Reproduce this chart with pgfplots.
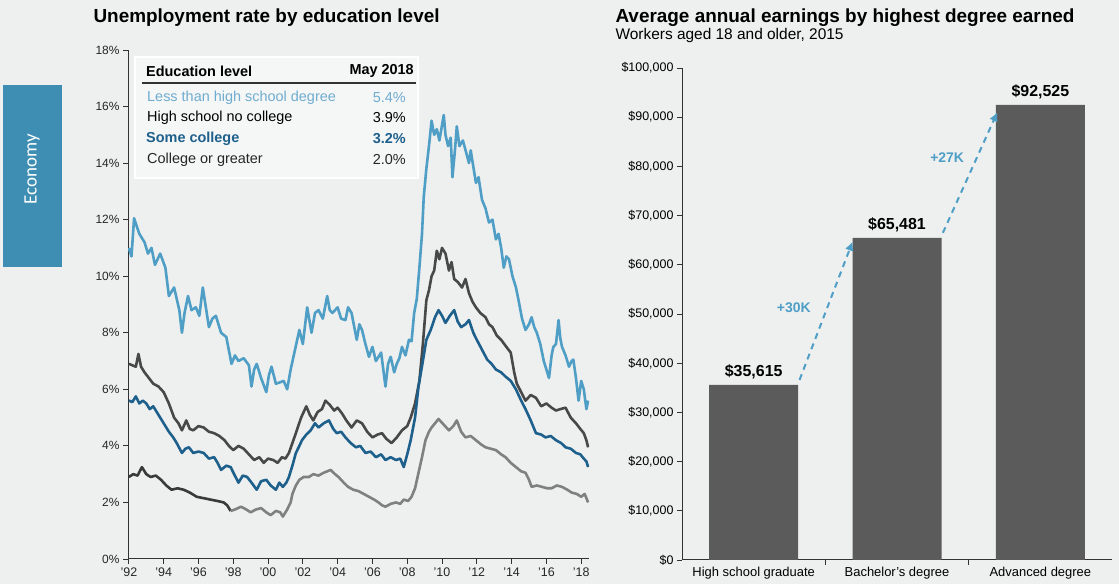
\documentclass[border=0pt]{standalone}
\usepackage{fontspec}
\setmainfont{Liberation Sans}
\newfontfamily\tabfont{Carlito}
\usepackage{pgfplots}
\pgfplotsset{compat=1.18}
\usetikzlibrary{arrows.meta}

\definecolor{bg}{RGB}{238,239,239}
\definecolor{tabblue}{RGB}{62,142,180}
\definecolor{lths}{RGB}{78,158,198}
\definecolor{lthstext}{RGB}{110,172,208}
\definecolor{hsnc}{RGB}{72,72,72}
\definecolor{somecol}{RGB}{30,96,140}
\definecolor{colgrey}{RGB}{128,128,128}
\definecolor{coldark}{RGB}{58,58,58}
\definecolor{bargrey}{RGB}{91,91,91}
\definecolor{axisgrey}{RGB}{50,50,50}

\begin{document}
\begin{tikzpicture}[x=1bp,y=1bp]
\path[use as bounding box, fill=bg] (0,0) rectangle (1119,584);

% side tab
\fill[tabblue] (3,317) rectangle (62,499);
\node[rotate=90, text=white, font=\tabfont\fontsize{19}{21}\selectfont] at (32,415) {Economy};

% titles
\node[anchor=west, font=\bfseries\fontsize{19}{22}\selectfont] at (90,566) {Unemployment rate by education level};
\node[anchor=west, font=\bfseries\fontsize{19}{22}\selectfont] at (612,566) {Average annual earnings by highest degree earned};
\node[anchor=west, font=\fontsize{15.5}{18}\selectfont] at (612,548) {Workers aged 18 and older, 2015};

% ---------------- left: unemployment rate ----------------
\begin{axis}[
    at={(128bp,25bp)}, anchor=south west,
    scale only axis, width=461bp, height=509bp,
    xmin=1991.95, xmax=2018.45,
    ymin=0, ymax=18,
    axis lines=left,
    axis line style={-, draw=axisgrey, line width=1bp},
    xtick={1992,1994,...,2018},
    xticklabels={'92,'94,'96,'98,'00,'02,'04,'06,'08,'10,'12,'14,'16,'18},
    ytick={0,2,...,18},
    yticklabels={0\%,2\%,4\%,6\%,8\%,10\%,12\%,14\%,16\%,18\%},
    tick align=outside,
    major tick length=5bp,
    tick style={draw=axisgrey, line width=0.8bp},
    xticklabel style={font=\fontsize{12.5}{14}\selectfont, text=black!85},
    yticklabel style={font=\fontsize{12}{14}\selectfont, text=black!85},
    line join=round,
  ]
  % Less than high school degree
  \addplot[lths, line width=2.6bp] coordinates {
    (1992.0,11.0) (1992.15,10.7) (1992.3,12.05) (1992.6,11.5) (1992.9,11.2)
    (1993.1,10.8) (1993.3,11.0) (1993.5,10.4) (1993.8,10.8) (1994.1,10.3)
    (1994.3,9.3) (1994.6,9.6) (1994.9,8.8) (1995.05,8.0) (1995.2,8.7)
    (1995.4,9.3) (1995.6,8.8) (1995.85,8.9) (1996.05,8.6) (1996.25,9.6)
    (1996.45,8.8) (1996.6,8.2) (1996.8,8.5) (1997.0,8.6) (1997.3,8.0)
    (1997.6,7.85) (1997.9,6.9) (1998.1,7.2) (1998.3,7.0) (1998.6,7.1)
    (1998.9,6.85) (1999.05,6.1) (1999.2,6.7) (1999.35,6.9) (1999.6,6.4)
    (1999.9,5.9) (2000.05,6.5) (2000.2,6.8) (2000.45,6.2) (2000.7,6.25)
    (2000.9,6.3) (2001.1,6.0) (2001.3,6.7) (2001.55,7.4) (2001.8,8.1)
    (2002.0,7.6) (2002.25,8.9) (2002.5,8.0) (2002.7,8.7) (2002.9,8.8)
    (2003.15,8.5) (2003.4,9.3) (2003.55,8.8) (2003.7,8.7) (2004.0,8.9)
    (2004.2,8.5) (2004.45,8.45) (2004.6,8.9) (2004.8,8.7) (2005.1,7.75)
    (2005.25,8.3) (2005.4,8.1) (2005.6,7.6) (2005.8,7.15) (2006.0,7.5)
    (2006.2,7.0) (2006.5,7.3) (2006.75,6.1) (2006.9,6.9) (2007.05,7.15)
    (2007.25,6.6) (2007.4,6.9) (2007.55,7.1) (2007.7,7.5) (2007.9,7.2)
    (2008.1,7.75) (2008.25,7.7) (2008.4,8.7) (2008.55,9.2) (2008.7,10.3)
    (2008.85,11.5) (2008.95,12.8) (2009.1,13.8) (2009.25,14.6) (2009.4,15.5)
    (2009.55,15.0) (2009.7,15.2) (2009.85,14.8) (2010.1,15.7) (2010.2,15.0)
    (2010.35,14.6) (2010.5,14.9) (2010.6,13.5) (2010.75,14.5) (2010.85,15.3)
    (2011.0,14.6) (2011.2,14.8) (2011.4,14.35) (2011.55,14.0) (2011.65,14.45)
    (2011.95,13.3) (2012.1,13.5) (2012.3,12.7) (2012.5,12.4) (2012.7,11.9)
    (2012.9,12.0) (2013.1,11.3) (2013.25,11.5) (2013.4,11.0) (2013.55,10.3)
    (2013.7,10.7) (2013.85,10.6) (2014.05,10.0) (2014.25,9.6) (2014.4,9.15)
    (2014.6,8.5) (2014.8,8.1) (2015.0,8.3) (2015.15,8.55) (2015.3,8.2)
    (2015.45,8.0) (2015.65,7.6) (2015.85,7.0) (2016.0,6.7) (2016.15,6.4)
    (2016.3,7.2) (2016.4,7.5) (2016.55,7.6) (2016.7,8.45) (2016.8,7.8)
    (2016.9,7.5) (2017.1,7.2) (2017.3,6.8) (2017.45,7.0) (2017.55,7.05)
    (2017.7,6.4) (2017.85,5.6) (2018.0,6.3) (2018.15,6.0) (2018.3,5.3)
    (2018.4,5.6)
  };
  % High school no college
  \addplot[hsnc, line width=2.6bp] coordinates {
    (1992.0,6.9) (1992.2,6.85) (1992.4,6.8) (1992.55,7.25) (1992.7,6.8)
    (1992.9,6.6) (1993.15,6.4) (1993.4,6.2) (1993.7,6.1) (1994.0,5.9)
    (1994.3,5.5) (1994.6,5.0) (1994.85,4.8) (1995.05,4.55) (1995.3,4.9)
    (1995.5,4.6) (1995.7,4.55) (1996.0,4.7) (1996.3,4.65) (1996.6,4.5)
    (1996.9,4.45) (1997.2,4.35) (1997.5,4.2) (1997.75,4.0) (1998.0,3.85)
    (1998.3,4.0) (1998.6,3.9) (1998.9,3.7) (1999.2,3.5) (1999.5,3.6)
    (1999.75,3.4) (2000.0,3.55) (2000.3,3.5) (2000.55,3.4) (2000.8,3.6)
    (2001.0,3.55) (2001.2,3.75) (2001.4,4.1) (2001.6,4.45) (2001.9,5.0)
    (2002.2,5.4) (2002.4,5.1) (2002.6,4.9) (2002.85,5.2) (2003.1,5.3)
    (2003.3,5.6) (2003.55,5.45) (2003.8,5.25) (2004.0,5.35) (2004.25,5.15)
    (2004.5,4.9) (2004.8,4.65) (2005.1,4.9) (2005.4,4.8) (2005.7,4.5)
    (2006.0,4.3) (2006.3,4.4) (2006.55,4.45) (2006.8,4.25) (2007.1,4.1)
    (2007.4,4.3) (2007.7,4.55) (2008.0,4.7) (2008.2,5.0) (2008.45,5.5)
    (2008.7,6.3) (2008.9,7.6) (2009.1,9.15) (2009.25,9.5) (2009.4,10.0)
    (2009.55,10.2) (2009.7,10.9) (2009.85,10.6) (2010.0,11.0) (2010.2,10.8)
    (2010.4,10.2) (2010.55,10.5) (2010.7,9.9) (2010.9,9.8) (2011.15,9.6)
    (2011.35,9.9) (2011.55,9.4) (2011.75,9.1) (2011.95,8.9) (2012.2,8.7)
    (2012.5,8.55) (2012.7,8.3) (2012.9,8.2) (2013.15,7.9) (2013.4,7.75)
    (2013.7,7.5) (2013.95,7.3) (2014.15,6.6) (2014.3,6.2) (2014.55,5.9)
    (2014.8,5.6) (2015.1,5.8) (2015.4,5.7) (2015.7,5.4) (2016.0,5.5)
    (2016.3,5.35) (2016.55,5.25) (2016.8,5.3) (2017.1,5.35) (2017.4,5.0)
    (2017.7,4.8) (2017.95,4.6) (2018.15,4.45) (2018.3,4.2) (2018.4,3.95)
  };
  % Some college
  \addplot[somecol, line width=2.6bp] coordinates {
    (1992.0,5.6) (1992.2,5.55) (1992.4,5.75) (1992.6,5.5) (1992.8,5.6)
    (1993.0,5.5) (1993.2,5.3) (1993.4,5.4) (1993.7,5.1) (1994.0,4.8)
    (1994.3,4.5) (1994.55,4.3) (1994.75,4.1) (1995.05,3.75) (1995.25,3.9)
    (1995.45,3.95) (1995.7,3.75) (1996.0,3.8) (1996.3,3.75) (1996.6,3.55)
    (1996.9,3.6) (1997.1,3.4) (1997.3,3.15) (1997.6,3.3) (1997.85,3.25)
    (1998.05,3.0) (1998.3,2.7) (1998.55,2.95) (1998.8,2.9) (1999.05,2.7)
    (1999.35,2.45) (1999.6,2.75) (1999.9,2.8) (2000.15,2.6) (2000.45,2.45)
    (2000.65,2.7) (2000.85,2.55) (2001.05,2.7) (2001.2,2.9) (2001.4,3.3)
    (2001.6,3.75) (2001.8,4.0) (2001.95,4.2) (2002.2,4.4) (2002.45,4.55)
    (2002.7,4.8) (2002.9,4.65) (2003.2,4.8) (2003.5,4.9) (2003.75,4.6)
    (2003.95,4.45) (2004.2,4.5) (2004.45,4.3) (2004.75,4.1) (2005.05,3.95)
    (2005.3,4.0) (2005.6,3.75) (2005.9,3.8) (2006.2,3.6) (2006.5,3.7)
    (2006.75,3.5) (2007.05,3.6) (2007.35,3.5) (2007.6,3.55) (2007.8,3.25)
    (2008.0,3.7) (2008.2,4.2) (2008.45,5.0) (2008.65,6.1) (2008.9,7.0)
    (2009.1,7.75) (2009.35,8.1) (2009.6,8.55) (2009.8,8.8) (2010.0,8.6)
    (2010.2,8.35) (2010.45,8.6) (2010.7,8.8) (2010.9,8.4) (2011.1,8.2)
    (2011.35,8.3) (2011.55,8.45) (2011.8,8.0) (2012.0,7.75) (2012.3,7.4)
    (2012.6,7.05) (2012.85,6.9) (2013.1,6.7) (2013.4,6.6) (2013.65,6.45)
    (2013.95,6.3) (2014.25,6.0) (2014.55,5.6) (2014.8,5.3) (2015.1,4.9)
    (2015.4,4.45) (2015.7,4.4) (2015.95,4.3) (2016.25,4.35) (2016.55,4.2)
    (2016.85,4.1) (2017.1,3.95) (2017.4,3.9) (2017.7,3.75) (2017.95,3.7)
    (2018.15,3.55) (2018.3,3.45) (2018.4,3.25)
  };
  % College or greater (darker in the early years, as printed)
  \addplot[coldark, line width=2.6bp] coordinates {
    (1992.0,2.9) (1992.25,3.0) (1992.5,2.95) (1992.75,3.25) (1993.0,3.0)
    (1993.25,2.9) (1993.55,2.95) (1993.85,2.8) (1994.15,2.6) (1994.45,2.45)
    (1994.8,2.5) (1995.15,2.45) (1995.5,2.35) (1995.9,2.2) (1996.3,2.15)
    (1996.7,2.1) (1997.1,2.05) (1997.45,2.0) (1997.65,1.9) (1997.85,1.7)
  };
  \addplot[colgrey, line width=2.6bp] coordinates {
    (1997.85,1.7) (1998.1,1.75) (1998.45,1.85) (1998.75,1.75) (1999.0,1.65)
    (1999.3,1.75) (1999.6,1.8) (1999.9,1.65) (2000.15,1.55) (2000.45,1.7)
    (2000.7,1.65) (2000.85,1.5) (2001.1,1.75) (2001.3,2.0) (2001.4,2.3)
    (2001.6,2.6) (2001.8,2.8) (2002.05,2.9) (2002.35,2.9) (2002.6,3.0)
    (2002.9,2.95) (2003.2,3.05) (2003.6,3.15) (2003.85,3.0) (2004.05,2.9)
    (2004.35,2.7) (2004.6,2.55) (2004.9,2.45) (2005.2,2.4) (2005.5,2.3)
    (2005.8,2.2) (2006.1,2.1) (2006.35,2.0) (2006.55,1.9) (2006.75,1.85)
    (2007.05,1.95) (2007.35,2.0) (2007.6,1.95) (2007.8,2.1) (2008.05,2.05)
    (2008.25,2.2) (2008.45,2.5) (2008.65,3.05) (2008.85,3.6) (2009.05,4.2)
    (2009.25,4.5) (2009.4,4.65) (2009.6,4.8) (2009.8,4.95) (2010.1,4.75)
    (2010.4,4.55) (2010.65,4.7) (2010.85,4.9) (2011.1,4.5) (2011.35,4.3)
    (2011.65,4.35) (2011.95,4.2) (2012.25,4.05) (2012.5,3.95) (2012.8,3.9)
    (2013.1,3.85) (2013.4,3.7) (2013.65,3.6) (2013.95,3.4) (2014.25,3.25)
    (2014.55,3.1) (2014.8,3.05) (2015.0,2.8) (2015.15,2.55) (2015.45,2.6)
    (2015.75,2.55) (2016.05,2.5) (2016.3,2.5) (2016.6,2.6) (2016.9,2.55)
    (2017.2,2.45) (2017.45,2.35) (2017.75,2.3) (2018.0,2.2) (2018.2,2.3)
    (2018.4,2.0)
  };
\end{axis}

% legend table of the left chart
\filldraw[fill=white, fill opacity=0.45, draw=white, line width=1.5bp] (135,406) rectangle (418,527);
\begin{scope}[every node/.style={font=\fontsize{14.5}{17}\selectfont, inner sep=0pt}]
  \node[anchor=west, font=\bfseries\fontsize{14.5}{17}\selectfont] at (146,513) {Education level};
  \node[anchor=east, font=\bfseries\fontsize{14.5}{17}\selectfont] at (414,513) {May 2018};
  \draw[axisgrey, line width=1.5bp] (142,501) -- (416,501);
  \node[anchor=west, text=lthstext] at (147,486) {Less than high school degree};
  \node[anchor=east, text=lthstext] at (406,486) {5.4\%};
  \node[anchor=west, text=black] at (147,466) {High school no college};
  \node[anchor=east, text=black] at (406,466) {3.9\%};
  \node[anchor=west, text=somecol, font=\bfseries\fontsize{14.5}{17}\selectfont] at (146,445) {Some college};
  \node[anchor=east, text=somecol, font=\bfseries\fontsize{14.5}{17}\selectfont] at (406,445) {3.2\%};
  \node[anchor=west, text=black!85] at (147,424) {College or greater};
  \node[anchor=east, text=black!85] at (406,424) {2.0\%};
\end{scope}

% ---------------- right: average annual earnings ----------------
\begin{axis}[
    at={(682bp,24bp)}, anchor=south west,
    scale only axis, width=430bp, height=492bp,
    xmin=-0.5, xmax=2.5,
    ymin=0, ymax=100000,
    axis lines=left,
    axis line style={-, draw=axisgrey, line width=1bp},
    xtick={0.5,1.5},
    xticklabels={},
    extra x ticks={0,1,2},
    extra x tick labels={High school graduate,Bachelor's degree,Advanced degree},
    extra x tick style={major tick length=0pt, tick label style={yshift=-4bp}},
    ytick={0,10000,...,100000},
    yticklabels={\$0,{\$10,000},{\$20,000},{\$30,000},{\$40,000},{\$50,000},{\$60,000},{\$70,000},{\$80,000},{\$90,000},{\$100,000}},
    scaled y ticks=false,
    tick align=outside,
    major tick length=5bp,
    tick style={draw=axisgrey, line width=0.8bp},
    xticklabel style={font=\fontsize{13}{15}\selectfont},
    yticklabel style={font=\fontsize{12.5}{14}\selectfont},
    ybar, bar width=89bp, bar shift=0pt,
    clip=false,
  ]
  \addplot[fill=bargrey, draw=none,
    nodes near coords={\$\pgfmathprintnumber[1000 sep={,}, assume math mode=true]{\pgfplotspointmeta}},
    nodes near coords style={font=\bfseries\fontsize{16}{18}\selectfont, text=black, yshift=2bp},
  ] coordinates {(0,35615) (1,65481) (2,92525)};

  \draw[lths, line width=2bp, dash pattern=on 6bp off 5bp, -{Latex[length=9bp,width=9bp]}]
    (axis cs:0.32,36600) -- (axis cs:0.69,64700);
  \draw[lths, line width=2bp, dash pattern=on 6bp off 5bp, -{Latex[length=9bp,width=9bp]}]
    (axis cs:1.32,66500) -- (axis cs:1.70,91000);
  \node[text=lths, font=\bfseries\fontsize{14}{16}\selectfont] at (axis cs:0.28,51200) {+30K};
  \node[text=lths, font=\bfseries\fontsize{14}{16}\selectfont] at (axis cs:1.35,81700) {+27K};
\end{axis}
\end{tikzpicture}
\end{document}
